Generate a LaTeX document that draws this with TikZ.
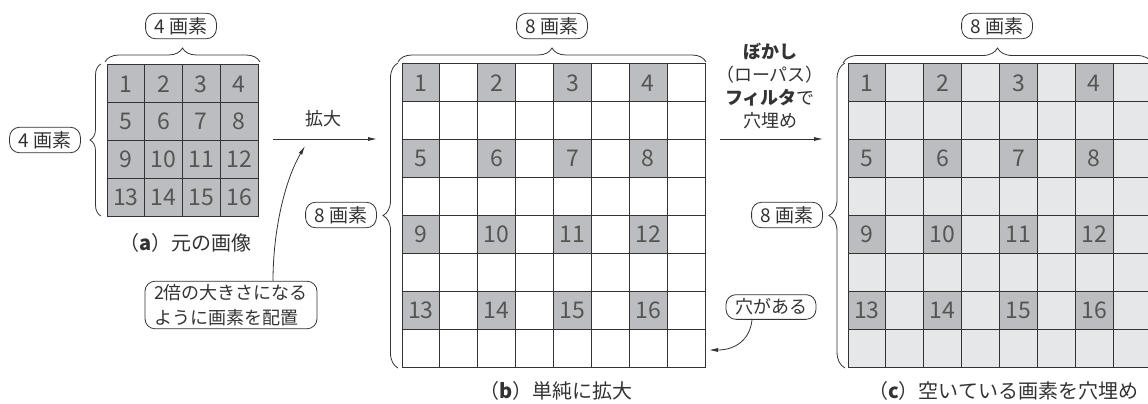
\documentclass[tikz,border=0pt]{standalone}
\usepackage{fontspec}
\setmainfont{Noto Sans CJK JP}
\usetikzlibrary{decorations.pathreplacing,arrows.meta}
\definecolor{darkcell}{HTML}{BCBDC0}
\definecolor{lightcell}{HTML}{E6E7E8}
\definecolor{numgray}{HTML}{555555}
\definecolor{ink}{HTML}{333333}
\begin{document}
\begin{tikzpicture}[x=1pt,y=-1pt]
\useasboundingbox (0,0) rectangle (1148,404);
\tikzset{
  lbl/.style={draw=ink, rounded corners=10pt, line width=0.8pt, inner xsep=9pt, inner ysep=4pt,
    font=\fontsize{19}{22}\selectfont, text=ink},
  cellbase/.style={draw=ink, line width=1pt, inner sep=0pt, text=numgray,
    font=\fontsize{23}{23}\selectfont},
  cellA/.style={cellbase, fill=darkcell, minimum size=37.75pt},
  cellW/.style={cellbase, fill=white, minimum size=37.875pt},
  cellL/.style={cellbase, fill=lightcell, minimum size=37.875pt},
  cellD/.style={cellbase, fill=darkcell, minimum size=37.875pt},
  brc/.style={decorate, decoration={brace, amplitude=#1}, draw=ink, line width=0.8pt},
  arr/.style={-{Latex[length=9pt,width=4pt]}, line width=0.8pt, draw=ink},
  txt/.style={text=ink, font=\fontsize{18}{23}\selectfont},
  captxt/.style={text=ink, font=\fontsize{20}{22}\selectfont, anchor=west, inner sep=0pt},
}
% ---------- (a) original image ----------
\foreach \i in {0,...,3}{
  \foreach \j in {0,...,3}{
    \pgfmathtruncatemacro\n{\j*4+\i+1}
    \node[cellA] (a\i\j) at ({107+37.75*(\i+0.5)},{65+37.75*(\j+0.5)}) {\n};
  }
}
\draw[brc=14pt] (105,62) -- (260,62);
\draw[brc=11pt] (101,216) -- (101,64);
\node[lbl] (aTop) at (181,26) {4 画素};
\node[lbl] (aLeft) at (45,140) {4 画素};
\node[captxt] (capA) at (119,243) {（\textbf{a}）元の画像};

% ---------- (b) simple enlargement ----------
\foreach \i in {0,...,7}{
  \foreach \j in {0,...,7}{
    \node[cellW] (b\i\j) at ({402+37.875*(\i+0.5)},{64+37.875*(\j+0.5)}) {};
  }
}
\foreach \i in {0,...,3}{
  \foreach \j in {0,...,3}{
    \pgfmathtruncatemacro\n{\j*4+\i+1}
    \node[cellD] (bd\i\j) at ({402+37.875*(2*\i+0.5)},{64+37.875*(2*\j+0.5)}) {\n};
  }
}
\draw[brc=14pt] (398,62) -- (706,62);
\draw[brc=15pt] (398,368) -- (398,63);
\node[lbl] (bTop) at (552,26) {8 画素};
\node[lbl] (bLeft) at (341,215) {8 画素};
\node[captxt] (capB) at (479,391) {（\textbf{b}）単純に拡大};

% ---------- (c) filled ----------
\foreach \i in {0,...,7}{
  \foreach \j in {0,...,7}{
    \node[cellL] (c\i\j) at ({848+37.875*(\i+0.5)},{64+37.875*(\j+0.5)}) {};
  }
}
\foreach \i in {0,...,3}{
  \foreach \j in {0,...,3}{
    \pgfmathtruncatemacro\n{\j*4+\i+1}
    \node[cellD] (cd\i\j) at ({848+37.875*(2*\i+0.5)},{64+37.875*(2*\j+0.5)}) {\n};
  }
}
\draw[brc=15pt] (843,63) -- (1152,63);
\draw[brc=16pt] (845,368) -- (845,63);
\node[lbl] (cTop) at (997,26) {8 画素};
\node[lbl] (cLeft) at (787,215) {8 画素};
\node[captxt] (capC) at (868,391) {（\textbf{c}）空いている画素を穴埋め};

% ---------- arrows and notes ----------
\coordinate (e1s) at (273,139);
\coordinate (e1e) at (377,139);
\draw[arr] (e1s) -- (e1e);
\node[txt] (kakudai) at (323,119) {拡大};

\coordinate (e2s) at (720,139);
\coordinate (e2e) at (823,139);
\draw[arr] (e2s) -- (e2e);
\node[txt, align=center] (filt) at (770,86) {{\bfseries ぼかし}\\（ローパス）\\{\bfseries フィルタ}で\\穴埋め};

\node[lbl, align=left, font=\fontsize{18}{25}\selectfont, inner ysep=3pt] (call) at (231,305) {2倍の大きさになる\\ように画素を配置};
\coordinate (callEnd) at (305,146);
\draw[arr] (call.north -| 273,0) .. controls (273,230) and (285,180) .. (callEnd);

\node[lbl, font=\fontsize{18}{22}\selectfont] (hole) at (771,307) {穴がある};
\coordinate (holeEnd) at (709,350);
\draw[arr] (hole.south -| 752,0) .. controls (750,340) and (735,350) .. (holeEnd);
\end{tikzpicture}
\end{document}
